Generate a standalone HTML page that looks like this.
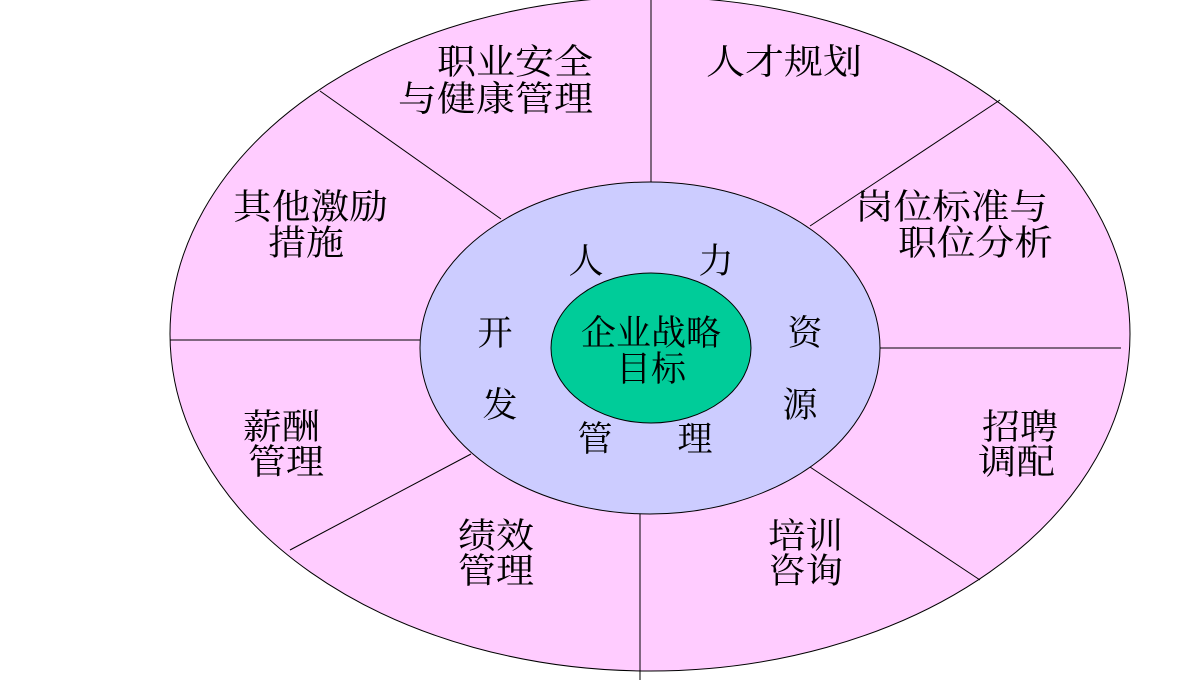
<!DOCTYPE html>
<html><head><meta charset="utf-8"><style>
html,body{margin:0;padding:0;background:#fff;width:1200px;height:680px;overflow:hidden}
text{font-family:"Liberation Serif","Noto Serif CJK SC",serif;font-size:35px;fill:#000}
</style></head><body>
<svg width="1200" height="680" viewBox="0 0 1200 680" xmlns="http://www.w3.org/2000/svg">
<ellipse cx="650" cy="334" rx="480" ry="337" fill="#ffccff" stroke="#000" stroke-width="1"/>
<g stroke="#000" stroke-width="1">
<line x1="651" y1="0" x2="651" y2="190"/>
<line x1="320" y1="91" x2="501" y2="219"/>
<line x1="170" y1="340" x2="421" y2="340"/>
<line x1="290" y1="550" x2="471" y2="454"/>
<line x1="640" y1="513" x2="640" y2="680"/>
<line x1="810" y1="467" x2="980" y2="580"/>
<line x1="880" y1="348" x2="1121" y2="348"/>
<line x1="810" y1="226" x2="1000" y2="100"/>
</g>
<ellipse cx="650" cy="348" rx="230" ry="166" fill="#ccccff" stroke="#000" stroke-width="1"/>
<ellipse cx="651" cy="348" rx="100" ry="75" fill="#00cc99" stroke="#000" stroke-width="1"/>

<text x="437" y="74" textLength="156" lengthAdjust="spacingAndGlyphs">职业安全</text>
<text x="398" y="111" textLength="195" lengthAdjust="spacingAndGlyphs">与健康管理</text>
<text x="706" y="74" textLength="156" lengthAdjust="spacingAndGlyphs">人才规划</text>
<text x="855" y="219" textLength="193" lengthAdjust="spacingAndGlyphs">岗位标准与</text>
<text x="898" y="255" textLength="155" lengthAdjust="spacingAndGlyphs">职位分析</text>
<text x="233" y="219" textLength="155" lengthAdjust="spacingAndGlyphs">其他激励</text>
<text x="268" y="255" textLength="76" lengthAdjust="spacingAndGlyphs">措施</text>
<text x="243" y="439" textLength="77" lengthAdjust="spacingAndGlyphs">薪酬</text>
<text x="248" y="474" textLength="76" lengthAdjust="spacingAndGlyphs">管理</text>
<text x="458" y="548" textLength="76" lengthAdjust="spacingAndGlyphs">绩效</text>
<text x="458" y="583" textLength="76" lengthAdjust="spacingAndGlyphs">管理</text>
<text x="768" y="548" textLength="75" lengthAdjust="spacingAndGlyphs">培训</text>
<text x="768" y="583" textLength="75" lengthAdjust="spacingAndGlyphs">咨询</text>
<text x="982" y="439" textLength="76" lengthAdjust="spacingAndGlyphs">招聘</text>
<text x="978" y="474" textLength="77" lengthAdjust="spacingAndGlyphs">调配</text>

<g text-anchor="middle">
<text x="586" y="273">人</text>
<text x="716" y="273">力</text>
<text x="495" y="345">开</text>
<text x="805" y="345">资</text>
<text x="500" y="417">发</text>
<text x="800" y="417">源</text>
<text x="595" y="451">管</text>
<text x="695" y="451">理</text>
<text x="651" y="345">企业战略</text>
<text x="651" y="381">目标</text>
</g>
</svg>
</body></html>
